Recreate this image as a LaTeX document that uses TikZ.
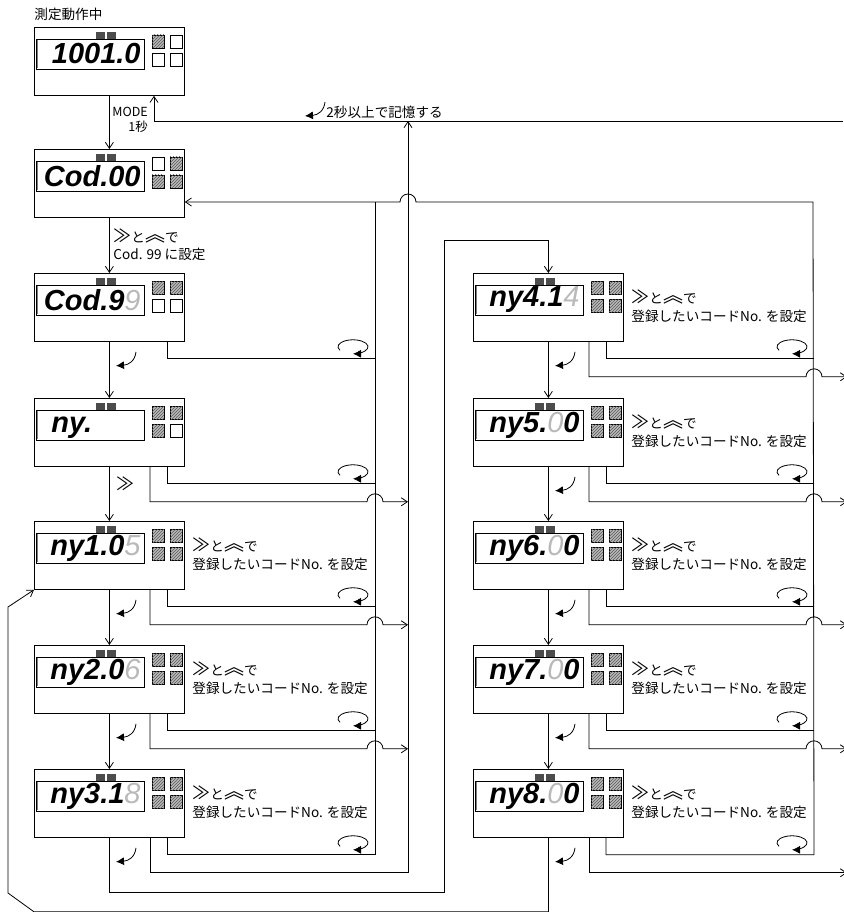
\documentclass[tikz,border=0pt]{standalone}
\usepackage{fontspec}
\setmainfont{Noto Sans CJK JP}
\newfontfamily\lcdfont{Liberation Sans}
\usepackage{tikz}
\usetikzlibrary{calc,arrows.meta,patterns}

\newcommand{\fwdkey}{{\fontsize{18}{18}\selectfont ≫}}
\newcommand{\upkey}{{\fontsize{20}{18}\selectfont\raisebox{1pt}{︽}}}

% one display panel: name, x, y, digits, blinking digits, tail, four lamps
\newcommand{\lcdpanel}[7]{%
  \node[panel] (#1) at (#2,#3) {};
  \filldraw[lcdtag] ($(#1.north west)+(62,5)$) rectangle +(8,6);
  \filldraw[lcdtag] ($(#1.north west)+(73,5)$) rectangle +(8,6);
  \draw ($(#1.north west)+(2,12)$) rectangle ($(#1.north west)+(110,42)$);
  \draw[gray, line width=1.6pt] ($(#1.north west)+(3.5,13)$) -- ($(#1.north west)+(3.5,41)$);
  \node[lcddigits] (#1-d) at ($(#1.north west)+(107,27)$) {#4{\color{gray!55}\mdseries #5}#6};
  \foreach \s [count=\i from 0] in {#7} {
    \pgfmathtruncatemacro\cc{mod(\i,2)}
    \pgfmathtruncatemacro\rr{div(\i,2)}
    \draw[\s] ($(#1.north west)+(118+18*\cc,8+18*\rr)$) rectangle +(12,13);
  }
  \coordinate (#1-in) at ($(#1.south west)+(133,0)$);
  \coordinate (#1-ib) at ($(#1.south west)+(133,17)$);
  \coordinate (#1-ie) at ($(#1.south west)+(341,17)$);
  \coordinate (#1-out) at ($(#1.south west)+(116,0)$);
  \coordinate (#1-ob) at ($(#1.south west)+(116,35)$);
  \coordinate (#1-h) at ($(#1.south west)+(333,35)$);
  \coordinate (#1-e) at ($(#1.south west)+(374,35)$);
  \coordinate (#1-tr) at ($(#1.south west)+(82,10)$);
  \coordinate (#1-lp) at ($(#1.south west)+(319,5)$);
}

\begin{document}
\begin{tikzpicture}[x=1pt, y=-1pt, line width=0.8pt,
  >={Straight Barb[length=6pt,width=8pt]},
  panel/.style={draw, minimum width=150pt, minimum height=68pt, inner sep=0pt, anchor=north west},
  lcdtag/.style={draw=black!70, fill=black!70, line width=0.4pt},
  lcddigits/.style={anchor=east, inner sep=0pt, font=\lcdfont\fontsize{29}{29}\selectfont\bfseries\itshape},
  lampoff/.style={draw, line width=0.6pt},
  lampon/.style={draw, line width=0.6pt, fill=gray!55, postaction={pattern=north east lines, pattern color=black!65}},
  note/.style={anchor=west, align=left, inner sep=0pt, font=\fontsize{13.6}{18}\selectfont},
  turnmark/.style={-{Latex[length=8pt,width=8pt]}},
  loopmark/.style={-{Latex[length=8pt,width=8pt]}}]

    \useasboundingbox (0,0) rectangle (843,912);

    \lcdpanel{p1}{34}{27}{1001.0}{}{}{lampon,lampoff,lampoff,lampoff}
    \lcdpanel{p2}{34}{149}{Cod.00}{}{}{lampoff,lampon,lampon,lampon}
    \lcdpanel{p3}{34}{273}{Cod.9}{9}{}{lampon,lampon,lampoff,lampoff}
    \lcdpanel{p4}{34}{398}{ny.}{}{\phantom{000}}{lampon,lampon,lampon,lampoff}
    \lcdpanel{p5}{34}{521}{ny1.0}{5}{}{lampon,lampon,lampon,lampon}
    \lcdpanel{p6}{34}{645}{ny2.0}{6}{}{lampon,lampon,lampon,lampon}
    \lcdpanel{p7}{34}{769}{ny3.1}{8}{}{lampon,lampon,lampon,lampon}
    \lcdpanel{q4}{473}{273}{ny4.1}{4}{}{lampon,lampon,lampon,lampon}
    \lcdpanel{q5}{473}{398}{ny5.}{0}{0}{lampon,lampon,lampon,lampon}
    \lcdpanel{q6}{473}{521}{ny6.}{0}{0}{lampon,lampon,lampon,lampon}
    \lcdpanel{q7}{473}{645}{ny7.}{0}{0}{lampon,lampon,lampon,lampon}
    \lcdpanel{q8}{473}{769}{ny8.}{0}{0}{lampon,lampon,lampon,lampon}

    \node[note] (title) at (34,14) {測定動作中};
    \node[note, align=right, font=\fontsize{12.5}{15}\selectfont] (mode) at (112,120) {MODE\\1秒};
    \node[note, font=\fontsize{13.6}{17}\selectfont] (set99) at (113,245) {\fwdkey と\upkey で\\Cod. 99 に設定};
    \node[note] (fwd) at (116,484) {\fwdkey};
    \node[note] (keep) at (326,112) {2秒以上で記憶する};
    \foreach \p in {p5,p6,p7,q4,q5,q6,q7,q8}
      \node[note] (\p-t) at ($(\p.north west)+(158,33)$) {\fwdkey と\upkey で\\登録したいコードNo. を設定};

    \coordinate (mem) at (154,121);
    \coordinate (edge) at (843,121);
    \coordinate (store) at (408,121);
    \coordinate (busR) at (813,202);
    \coordinate (busL) at (375,202);
    \coordinate (hopC) at (416,202);
    \coordinate (keep-tr) at (305,102);

    % down the two columns
    \foreach \a/\b in {p1/p2,p2/p3,p3/p4,p4/p5,p5/p6,p6/p7,q4/q5,q5/q6,q6/q7,q7/q8}
      \draw[->] (\a.south) -- (\b.north);
    \draw[->] (edge) -- (mem) -- (mem |- p1.south);

    % back to Cod.00
    \draw[->] (q8-in) -- (q8-ib) -- (q8-ie) -- (busR) -- (hopC)
      arc[start angle=0, end angle=-180, radius=8] -- (p2.east |- busR);
    \draw (p7-in) -- (p7-ib) -- (p7-ie) -- (busL);
    \draw (p3-in) -- (p3-ib) -- (p3-ie);
    \draw[->] (p7-out) -- (p7-ob) -- (p7-e) -- (store);

    % repeat for the other rows
    \foreach \p in {p4,p5,p6,q4,q5,q6,q7} {
      \draw (\p-in) -- (\p-ib) -- (\p-ie);
      \draw[->] (\p-out) -- (\p-ob) -- (\p-h)
        arc[start angle=180, end angle=360, radius=8] -- (\p-e);
    }
    \draw[->] (q8-out) -- (q8-ob) -- (q8-e);

    % left column over to ny4
    \coordinate (t1) at ($(p7.south)+(0,55)$);
    \coordinate (t2) at (444,240);
    \draw[->] (p7.south) -- (t1) -- (t1 -| t2) -- (t2) -- (t2 -| q4.north) -- (q4.north);

    % ny8 back to ny1
    \coordinate (r1) at ($(q8.south)+(0,74)$);
    \coordinate (r2) at (8,893);
    \coordinate (r3) at (8,607);
    \draw[->] (q8.south) -- (r1) -- (r1 -| p7.west) -- (r2) -- (r3) -- (p5.south west);

    \foreach \p in {keep,p3,p5,p6,p7,q4,q5,q6,q7,q8}
      \draw[turnmark] ($(\p-tr)+(20,0)$) .. controls ($(\p-tr)+(19,9)$) and ($(\p-tr)+(13,13)$) .. ($(\p-tr)+(0,14)$);
    \foreach \p in {p3,p4,p5,p6,p7,q4,q5,q6,q7,q8}
      \draw[loopmark] ($(\p-lp)+(150:15 and 7)$) arc[start angle=150, end angle=450, x radius=15, y radius=7];

\end{tikzpicture}
\end{document}
